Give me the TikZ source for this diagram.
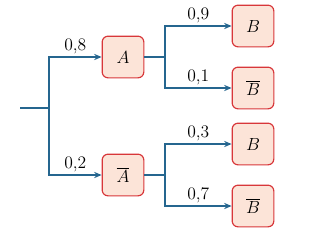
\documentclass[tikz,border=0pt]{standalone}
\usepackage{amsmath,amssymb}
\usepackage{tikz}
\usepackage{xcolor}
\usetikzlibrary{arrows.meta,positioning,calc}
\definecolor{treeblue}{HTML}{25668F}
\definecolor{evtred}{HTML}{D8373A}
\definecolor{evtbg}{HTML}{FCE4D8}
\tikzset{
  evt/.style={draw=evtred,fill=evtbg,line width=0.8pt,rounded corners=4pt,
              minimum width=1.0cm,minimum height=1.0cm,inner sep=2pt,
              font=\large},
  branch/.style={draw=treeblue,line width=1pt},
  probarr/.style={-{Stealth[length=1.8mm,width=1.5mm]},line width=1pt,
                  draw=treeblue},
  prob/.style={above,inner sep=1.5pt,text=black,font=\large}
}
\begin{document}
\begin{tikzpicture}[x=0.024cm,y=-0.024cm]
        \useasboundingbox (0,0) rectangle (310,234);
        % first level
        \node[evt] (A) at (123,57) {$A$};
        \node[evt] (nA) at (123,175) {$\overline{A}$};
        % second level
        \node[evt] (B1) at (253,26) {$B$};
        \node[evt] (nB1) at (253,88) {$\overline{B}$};
        \node[evt] (B2) at (253,144) {$B$};
        \node[evt] (nB2) at (253,206) {$\overline{B}$};
        \coordinate (root) at (20,108);
        \coordinate (fork) at (49,108);
        \coordinate (forkA) at (165,57);
        \coordinate (forknA) at (165,175);
        \draw[branch] (root) -- (fork);
        \draw[probarr] (fork) |- node[prob,pos=0.75] {0,8} (A);
        \draw[probarr] (fork) |- node[prob,pos=0.75] {0,2} (nA);
        \draw[branch] (A) -- (forkA);
        \draw[probarr] (forkA) |- node[prob,pos=0.75] {0,9} (B1);
        \draw[probarr] (forkA) |- node[prob,pos=0.75] {0,1} (nB1);
        \draw[branch] (nA) -- (forknA);
        \draw[probarr] (forknA) |- node[prob,pos=0.75] {0,3} (B2);
        \draw[probarr] (forknA) |- node[prob,pos=0.75] {0,7} (nB2);
      \end{tikzpicture}
\end{document}
